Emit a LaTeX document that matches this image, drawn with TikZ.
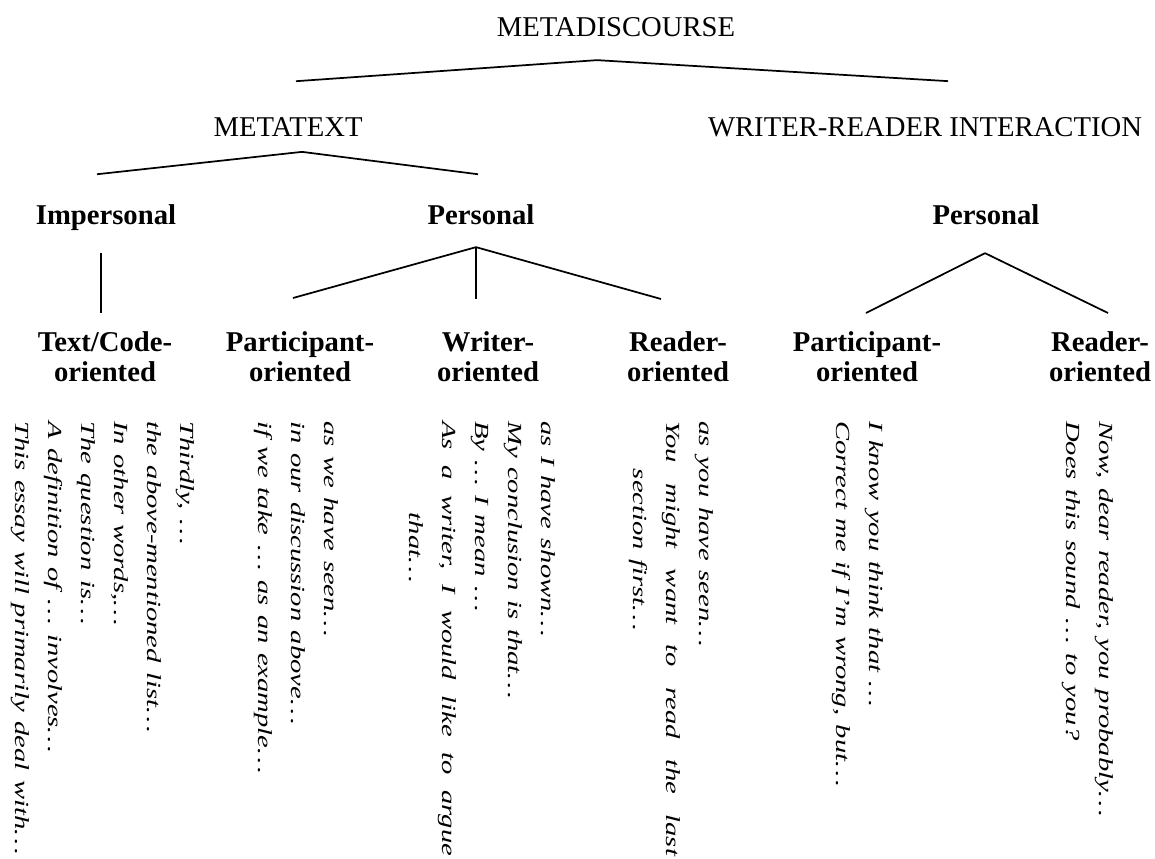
\documentclass[tikz,border=0pt]{standalone}
\usepackage{fontspec}
\setmainfont{Liberation Serif}
\usetikzlibrary{calc}

\newcommand{\fullline}[1]{\leavevmode\hbox to 228pt{#1}}

\begin{document}
\begin{tikzpicture}[x=0.75pt,y=-0.75pt,line width=1.3pt,
                    cat/.style={font=\fontsize{21.5}{24}\selectfont,inner sep=0pt,anchor=base},
                    kind/.style={font=\bfseries\fontsize{21.5}{24}\selectfont,inner sep=0pt,anchor=base},
                    sub/.style={font=\bfseries\fontsize{21.5}{22.5}\selectfont,inner sep=0pt,
                                anchor=north,align=center},
                    eg/.style={rotate=-90,transform shape,xscale=1.43,anchor=north west,inner sep=0pt,
                               text width=236pt,align=left,font=\itshape\fontsize{15}{24.75}\selectfont},
                    stem/.style={line width=0.9pt}]
  \useasboundingbox (0,0) rectangle (1155,859);

  % the tree
  \node[cat]  (md)    at (616,37)  {METADISCOURSE};
  \node[cat]  (mt)    at (288,137) {METATEXT};
  \node[cat]  (wri)   at (925,137) {WRITER-READER INTERACTION};
  \node[kind] (imp)   at (106,224) {Impersonal};
  \node[kind] (pers)  at (481,224) {Personal};
  \node[kind] (wpers) at (986,224) {Personal};
  \node[sub]  (tc)    at (105,331) {Text/Code-\\oriented};
  \node[sub]  (pa)    at (300,331) {Participant-\\oriented};
  \node[sub]  (wo)    at (488,331) {Writer-\\oriented};
  \node[sub]  (ro)    at (678,331) {Reader-\\oriented};
  \node[sub]  (wpa)   at (867,331) {Participant-\\oriented};
  \node[sub]  (wro)   at (1100,331) {Reader-\\oriented};

  \path ($(md.south)+(-19,22)$) edge ($(mt.north)+(8,-36)$)
                                edge ($(wri.north)+(23,-36)$)
        ($(mt.south)+(14,14)$)  edge ($(imp.north)+(-9,-29)$)
                                edge ($(pers.north)+(-3,-29)$)
        ($(pers.south)+(-5,22)$) edge ($(pa.north)+(-7,-33)$)
                                edge[stem] ($(wo.north)+(-12,-32)$)
                                edge ($(ro.north)+(-17,-32)$)
        ($(wpers.south)+(-1,28)$) edge ($(wpa.north)+(-1,-18)$)
                                edge ($(wro.north)+(8,-18)$);
  \path[stem] ($(imp.south)+(-5,22)$) edge ($(tc.north)+(-4,-18)$);

  % examples, read top to bottom
  \node[eg] (ex1) at (195,420) {Thirdly, \ldots\\the above-mentioned list\ldots\\In other words,\ldots\\
    The question is\ldots\\A definition of \ldots\ involves\ldots\\This essay will primarily deal with\ldots};
  \node[eg] (ex2) at (339,420) {as we have seen\ldots\\in our discussion above\ldots\\
    if we take \ldots\ as an example\ldots};
  \node[eg] (ex3) at (556,420) {as I have shown\ldots\\My conclusion is that\ldots\\By \ldots\ I mean \ldots\\
    \fullline{As\hfill a\hfill writer,\hfill I\hfill would\hfill like\hfill to\hfill argue}\\
    \hspace*{48pt}that\ldots};
  \node[eg] (ex4) at (714,420) {as you have seen\ldots\\
    \fullline{You\hfill might\hfill want\hfill to\hfill read\hfill the\hfill last}\\
    \hspace*{25pt}section first\ldots};
  \node[eg] (ex5) at (884,420) {I know you think that \ldots\\Correct me if I'm wrong, but\ldots};
  \node[eg] (ex6) at (1114,420) {Now, dear reader, you probably\ldots\\Does this sound \ldots\ to you?};
\end{tikzpicture}
\end{document}
